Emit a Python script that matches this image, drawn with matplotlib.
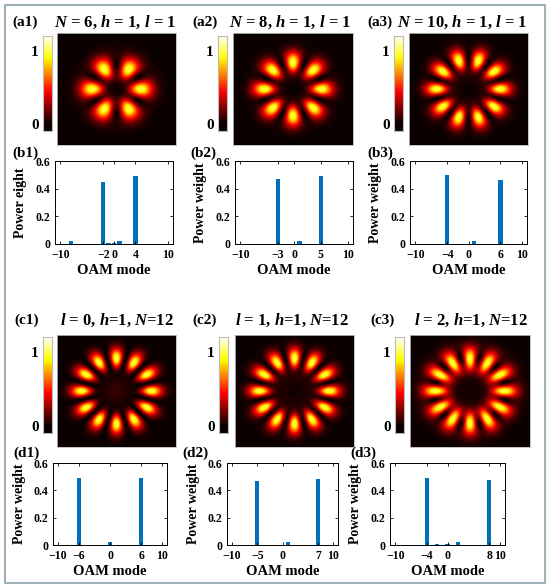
import numpy as np
import matplotlib
matplotlib.use('Agg')
import matplotlib.pyplot as plt
from matplotlib.patches import Rectangle
from matplotlib.colors import Normalize
from math import factorial, pi

plt.rcParams['font.family'] = ['Liberation Serif', 'DejaVu Serif']
plt.rcParams['font.weight'] = 'bold'
plt.rcParams['mathtext.fontset'] = 'custom'
plt.rcParams['mathtext.it'] = 'Liberation Serif:italic:bold'
plt.rcParams['mathtext.rm'] = 'Liberation Serif:bold'
plt.rcParams['mathtext.bf'] = 'Liberation Serif:bold'
plt.rcParams['axes.unicode_minus'] = True

# ---------------- data ----------------
titles = ["$N$ = 6, $h$ = 1, $l$ = 1", "$N$ = 8, $h$ = 1, $l$ = 1", "$N$ = 10, $h$ = 1, $l$ = 1",
          "$l$ = 0, $h$=1, $N$=12", "$l$ = 1, $h$=1, $N$=12", "$l$ = 2, $h$=1, $N$=12"]
img_labels = ["(a1)", "(a2)", "(a3)", "(c1)", "(c2)", "(c3)"]
bar_labels = ["(b1)", "(b2)", "(b3)", "(d1)", "(d2)", "(d3)"]
ylabels = ["Power eight", "Power weight", "Power weight",
           "Power weight", "Power weight", "Power weight"]

modes_1 = [-8, -2, -1, 0, 1, 4]
weights_1 = [0.02, 0.45, 0.004, 0.004, 0.02, 0.49]
modes_2 = [-3, 1, 5]
weights_2 = [0.47, 0.02, 0.49]
modes_3 = [-4, 1, 6]
weights_3 = [0.50, 0.025, 0.46]
modes_4 = [-6, 0, 6]
weights_4 = [0.49, 0.025, 0.49]
modes_5 = [-5, 0, 1, 7]
weights_5 = [0.47, 0.003, 0.025, 0.485]
modes_6 = [-4, -2, 0, 2, 8]
weights_6 = [0.49, 0.007, 0.005, 0.02, 0.475]

modes_all = [modes_1, modes_2, modes_3, modes_4, modes_5, modes_6]
weights_all = [weights_1, weights_2, weights_3, weights_4, weights_5, weights_6]

xtick_vals = [[-10, -2, 0, 4, 10], [-10, -3, 0, 5, 10], [-10, -4, 0, 6, 10],
              [-10, -6, 0, 6, 10], [-10, -5, 0, 7, 10], [-10, -4, 0, 8, 10]]
ytick_vals = [0, 0.2, 0.4, 0.6]
ytick_text = ["0", "0.2", "0.4", "0.6"]

# ---------------- layout (pixels: left, top, right, bottom) ----------------
W, H = 550, 587
fig = plt.figure(figsize=(W / 100, H / 100), dpi=100)

def rect(l, t, r, b):
    return [l / W, 1 - b / H, (r - l) / W, (b - t) / H]

img_boxes = [(57, 33, 176, 145), (233, 33, 353, 145), (409, 33, 528, 145),
             (57, 335, 176, 447), (235, 335, 354, 447), (410, 335, 530, 447)]
cb_boxes = [(43, 36, 52, 131), (218, 36, 227, 131), (394, 36, 403, 131),
            (43, 337, 52, 433), (219, 337, 228, 433), (395, 337, 404, 433)]
bar_boxes = [(55, 161, 173, 244), (235, 161, 353, 244), (410, 161, 527, 244),
             (53, 463, 167, 545), (227, 463, 338, 545), (390, 463, 505, 545)]
img_lab_pos = [(12, 22), (192, 22), (367, 22), (14, 320), (192, 320), (370, 320)]
title_pos = [(115, 22), (290, 22), (462, 22), (117, 320), (292, 320), (471, 320)]
bar_lab_pos = [(12, 153), (190, 153), (367, 153), (13, 453), (182, 453), (350, 453)]

# ---------------- intensity images from the OAM spectra ----------------
n = 260
x = np.linspace(-1, 1, n)
X, Y = np.meshgrid(x, x)
R = np.hypot(X, Y)
PHI = np.arctan2(Y, X)
w0 = 0.34

def lg(m):
    am = abs(m)
    return (np.sqrt(2.0 / (pi * factorial(am))) * (np.sqrt(2) * R / w0) ** am
            * np.exp(-R ** 2 / w0 ** 2) * np.exp(1j * m * PHI))

norm = Normalize(vmin=0, vmax=1.2)
grad = np.linspace(-0.1, 1.2, 256)[:, None]
for i in range(6):
    ms = np.array(modes_all[i])
    ps = np.array(weights_all[i])
    order = np.argsort(ps)[::-1]
    # two dominant modes interfere coherently, weak residual modes add incoherently
    E = sum(np.sqrt(ps[j]) * lg(ms[j]) for j in order[:2])
    I = np.abs(E) ** 2
    for j in order[2:]:
        I = I + ps[j] * np.abs(lg(ms[j])) ** 2
    I = I / I.max()
    ax = fig.add_axes(rect(*img_boxes[i]))
    ax.imshow(I, cmap='hot', norm=norm, aspect='auto', interpolation='bilinear',
              extent=[-1, 1, -1, 1], origin='lower')
    ax.set_xticks([]); ax.set_yticks([])
    for s in ax.spines.values():
        s.set_color('#bbbbbb'); s.set_linewidth(0.6)

    cax = fig.add_axes(rect(*cb_boxes[i]))
    cax.imshow(grad, cmap='hot', norm=norm, aspect='auto', origin='lower',
               extent=[0, 1, -0.1, 1.2])
    cax.set_xticks([])
    cax.set_yticks([0, 1])
    cax.set_yticklabels(["0", "1"])
    cax.tick_params(length=0, labelsize=11, pad=3)
    for s in cax.spines.values():
        s.set_color('#bbbbbb'); s.set_linewidth(0.8)

    fig.text(img_lab_pos[i][0] / W, 1 - img_lab_pos[i][1] / H, img_labels[i],
             fontsize=11, fontweight='bold', ha='left', va='center')
    fig.text(title_pos[i][0] / W, 1 - title_pos[i][1] / H, titles[i],
             fontsize=12, fontweight='bold', ha='center', va='center')

# ---------------- bar charts ----------------
for i in range(6):
    ax = fig.add_axes(rect(*bar_boxes[i]))
    ax.bar(modes_all[i], weights_all[i], width=0.8, color='#0072BD')
    ax.set_xlim(-11, 11)
    ax.set_ylim(0, 0.6)
    ax.set_xticks(xtick_vals[i])
    ax.set_xticklabels([str(v).replace('-', '\u2212') for v in xtick_vals[i]])
    ax.set_yticks(ytick_vals)
    ax.set_yticklabels(ytick_text)
    ax.tick_params(direction='in', length=2.5, width=0.6, labelsize=8.5,
                   top=True, right=True, pad=3.5)
    for s in ax.spines.values():
        s.set_linewidth(0.7)
    ax.set_xlabel("OAM mode", fontsize=10.5, fontweight='bold', labelpad=2)
    ax.set_ylabel(ylabels[i], fontsize=10, fontweight='bold')
    ax.yaxis.set_label_coords(-0.24, 0.5)
    fig.text(bar_lab_pos[i][0] / W, 1 - bar_lab_pos[i][1] / H, bar_labels[i],
             fontsize=11, fontweight='bold', ha='left', va='center')

# ---------------- outer frame ----------------
fig.patches.append(Rectangle((5 / W, 1 - 583 / H), 540 / W, 578 / H,
                             transform=fig.transFigure, fill=False,
                             edgecolor='#9fb2b9', linewidth=1.5))

fig.savefig('out.png', dpi=100)
